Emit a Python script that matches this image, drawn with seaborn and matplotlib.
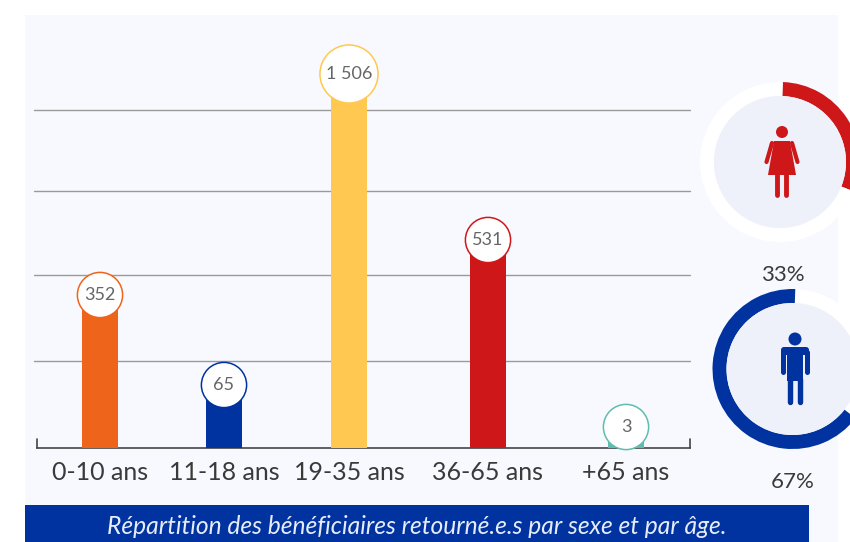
import matplotlib
matplotlib.use('Agg')
import matplotlib.pyplot as plt
from matplotlib.patches import Rectangle, Circle, Polygon, FancyBboxPatch
import pandas as pd
import seaborn as sns

# Data
age_groups = ['0-10 ans', '11-18 ans', '19-35 ans', '36-65 ans', '+65 ans']
value_labels = ['352', '65', '1 506', '531', '3']
# bars are not to scale in the original, heights read off the picture
bar_heights = [153, 63, 374, 208, 21]
grid_levels = [87, 173, 257, 338]
sex_labels = ['33%', '67%']
# how much of each ring is really coloured in the picture
ring_fill = [30.5, 65]
caption = 'Répartition des bénéficiaires retourné.e.s par sexe et par âge.'

# Layout, in pixels of the 850x542 image
W, H = 850, 542
BASE_Y = 448
bar_centres = [100, 224, 349, 488, 626]
bubble_sizes = [1060, 1060, 1750, 1060, 1060]
colors = ['#EE641A', '#0033A0', '#FFC850', '#CE1719', '#5FBDB0']
PANEL = '#F7F9FE'
DISC = '#EEF1F9'
TEXT = '#3A3A3A'

sns.set_theme(style='white')
plt.rcParams['font.family'] = ['Lato', 'DejaVu Sans']

fig = plt.figure(figsize=(W / 100, H / 100), dpi=100, facecolor='white')

# background layer in pixel coordinates, y going up from the image bottom
bg = fig.add_axes([0, 0, 1, 1], zorder=0)
bg.add_patch(Rectangle((25, 0), 813, H - 15, color=PANEL, lw=0))
bg.add_patch(Rectangle((25, 0), 784, H - 505, color='#0033A0', lw=0))
bg.text(417, H - 527, caption, color='#E6ECF8', fontsize=17.75, style='italic',
        ha='center', va='center')

# bars
ax = fig.add_axes([37 / W, (H - BASE_Y) / H, (690 - 37) / W, (BASE_Y - 15) / H], zorder=1)
ax.patch.set_alpha(0)
df = pd.DataFrame({'centre': bar_centres, 'height': bar_heights, 'group': age_groups})
sns.barplot(data=df, x='centre', y='height', hue='group', palette=colors, native_scale=True,
            width=36 / 124, dodge=False, legend=False, saturation=1, linewidth=0, ax=ax, zorder=3)
ax.set_xlim(37, 690)
ax.set_ylim(0, BASE_Y - 15)
for lvl in grid_levels:
    ax.plot([34, 690], [lvl, lvl], color='#9A9A9A', lw=1, clip_on=False, zorder=1)
ax.set_xlabel('')
ax.set_ylabel('')
ax.set_yticks([])
ax.set_xticks(bar_centres, age_groups, fontsize=18, color=TEXT)
ax.tick_params(axis='x', length=0, pad=9)
for side in ['top', 'left', 'right']:
    ax.spines[side].set_visible(False)
ax.spines['bottom'].set_color('#444444')
ax.spines['bottom'].set_linewidth(1.2)
ax.plot([37, 37], [0, 9], color='#444444', lw=1.2, clip_on=False, zorder=2)
ax.plot([690, 690], [0, 9], color='#444444', lw=1.2, clip_on=False, zorder=2)

# value bubbles on top of the bars
ax.scatter(bar_centres, bar_heights, s=bubble_sizes, facecolor='white', edgecolor=colors,
           linewidth=1.1, clip_on=False, zorder=4)
for x, y, lab in zip(bar_centres, bar_heights, value_labels):
    ax.text(x, y, lab, ha='center', va='center', fontsize=13, color='#666666', zorder=5)


def ring(cx, cy, vals, cols):
    bg.pie(vals, colors=cols, startangle=88, counterclock=False, center=(cx, H - cy),
           radius=80, wedgeprops={'width': 14, 'linewidth': 0}, frame=True)
    bg.add_patch(Circle((cx, H - cy), 66, color=DISC, lw=0, zorder=2))


def line(color, lw, *pts):
    bg.plot([p[0] for p in pts], [p[1] for p in pts], color=color, lw=lw,
            solid_capstyle='round', zorder=3)


def woman(cx, cy, color):
    y = lambda v: H - (cy + v)
    bg.add_patch(Circle((cx, y(-30)), 6, color=color, lw=0, zorder=3))
    bg.add_patch(Polygon([(cx - 8, y(-21)), (cx + 8, y(-21)), (cx + 14, y(13)), (cx - 14, y(13))],
                         color=color, lw=0, zorder=3))
    for sgn in (-1, 1):
        line(color, 3, (cx + sgn * 10, y(-19)), (cx + sgn * 15.5, y(0)))
        line(color, 3.5, (cx + sgn * 4.5, y(13)), (cx + sgn * 4.5, y(33)))


def man(cx, cy, color):
    y = lambda v: H - (cy + v)
    bg.add_patch(Circle((cx, y(-30)), 6.5, color=color, lw=0, zorder=3))
    bg.add_patch(FancyBboxPatch((cx - 14, y(-14)), 28, 8, boxstyle='round,pad=0,rounding_size=3',
                                color=color, lw=0, zorder=3))
    bg.add_patch(Rectangle((cx - 8, y(12)), 16, 30, color=color, lw=0, zorder=3))
    for sgn in (-1, 1):
        line(color, 3.6, (cx + sgn * 11.7, y(-17)), (cx + sgn * 11.7, y(3)))
        line(color, 3.9, (cx + sgn * 5, y(10)), (cx + sgn * 5, y(33)))


ring(780, 162, [ring_fill[0], 100 - ring_fill[0]], ['#CE1719', 'white'])
woman(782, 162, '#CE1719')
ring(792.5, 369, [100 - ring_fill[1], ring_fill[1]], ['white', '#0033A0'])
man(795, 369, '#0033A0')
bg.set_xlim(0, W)
bg.set_ylim(0, H)
bg.set_aspect('auto')
bg.axis('off')

bg.text(783, H - 275, sex_labels[0], fontsize=16, color=TEXT, ha='center', va='center')
bg.text(793, H - 482, sex_labels[1], fontsize=16, color=TEXT, ha='center', va='center')

fig.savefig('out.png', dpi=100)
